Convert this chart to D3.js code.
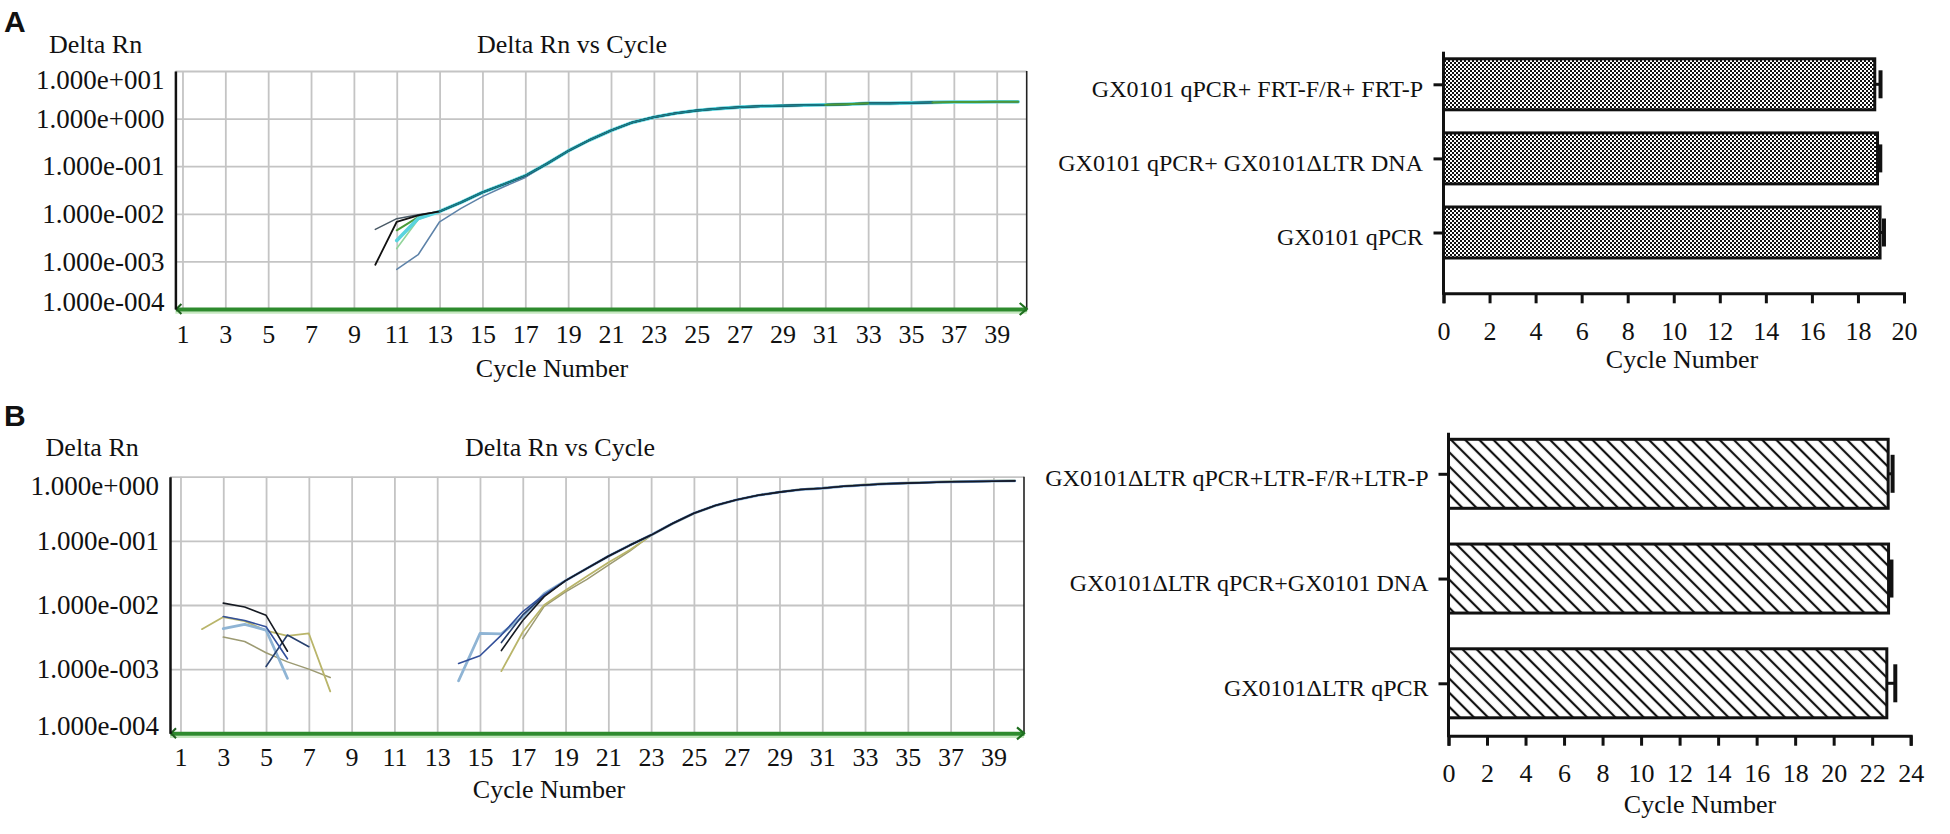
<!DOCTYPE html>
<html><head><meta charset="utf-8">
<script src="https://cdn.jsdelivr.net/npm/d3@7"></script>
<style>
body{margin:0;background:#fff;}
svg{display:block;font-family:"Liberation Serif","Times New Roman",serif;}
</style></head><body>
<svg id="c" width="1950" height="834"></svg>
<script>
// ---------------- DATA ----------------
const cycleTicks = [1,3,5,7,9,11,13,15,17,19,21,23,25,27,29,31,33,35,37,39];
const yTicksA = [10,1,0.1,0.01,0.001,0.0001];
const yTicksB = [1,0.1,0.01,0.001,0.0001];

// Panel A amplification curves: [cycle, Delta Rn]
const tailA = [[13,1.12e-2],[14,1.74e-2],[15,2.82e-2],[16,4.17e-2],[17,6.31e-2],[18,0.112],[19,0.209],[20,0.355],[21,0.562],[22,0.832],[23,1.07],[24,1.29],[25,1.48],[26,1.62],[27,1.74],[28,1.82],[29,1.86],[30,1.91],[31,1.95],[32,2.0],[33,2.09],[34,2.09],[35,2.14],[36,2.19],[37,2.24],[38,2.24],[39,2.26],[40,2.26]];
const aGreen = [[11,4.5e-3],[12,8.5e-3]];
const aLightGreen = [[11,1.86e-3],[12,7.6e-3]];
const aBlueGray = [[11,6.8e-4],[12,1.38e-3],[13,6.8e-3],[14,1.3e-2],[15,2.3e-2],[16,3.7e-2],[17,5.8e-2]];
const aCyan = [[11,2.75e-3],[12,8.0e-3]];
const aDark = [[10,4.7e-3],[11,7.9e-3],[12,9.5e-3]];
const aBlack = [[10,8.5e-4],[11,6.8e-3],[12,9.3e-3]];

// Panel B amplification curves
const tailB = [[19,0.024],[20,0.0372],[21,0.0575],[22,0.0851],[23,0.123],[24,0.186],[25,0.269],[26,0.355],[27,0.437],[28,0.513],[29,0.575],[30,0.631],[31,0.661],[32,0.708],[33,0.741],[34,0.776],[35,0.794],[36,0.813],[37,0.832],[38,0.841],[39,0.851],[40,0.861]];
const tailBOlive = [[23,0.121],[24,0.183],[25,0.265],[26,0.352],[27,0.437],[28,0.515],[29,0.58],[30,0.64],[31,0.67],[32,0.72],[33,0.76],[34,0.79],[35,0.81],[36,0.83],[37,0.85],[38,0.86],[39,0.87],[40,0.875]];
const bBlackEarly = [[3,1.07e-2],[4,9.3e-3],[5,6.9e-3],[6,1.9e-3]];
const bBlackRise = [[16,1.95e-3],[17,5.75e-3],[18,1.35e-2]];
const bNavyEarly = [[3,6.6e-3],[4,5.75e-3],[5,4.57e-3],[6,1.45e-3]];
const bNavyRise = [[14,1.23e-3],[15,1.62e-3],[16,3.4e-3],[17,7.9e-3],[18,1.45e-2]];
const bBlueEarly = [[5,1.1e-3],[6,3.4e-3],[7,2.24e-3]];
const bBlueRise = [[16,2.6e-3],[17,7.0e-3],[18,1.4e-2]];
const bLightEarly = [[3,4.27e-3],[4,5.0e-3],[5,4.07e-3],[6,7.2e-4]];
const bLightRise = [[14,6.6e-4],[15,3.6e-3],[16,3.55e-3],[17,6.6e-3],[18,1.5e-2]];
const bKhakiEarly = [[3,3.16e-3],[4,2.7e-3],[5,1.8e-3],[6,1.3e-3],[7,1.0e-3],[8,7.4e-4]];
const bKhakiRise = [[17,3.0e-3],[18,9.5e-3],[19,1.6e-2],[20,2.5e-2],[21,4.2e-2],[22,6.9e-2]];
const bOliveEarly = [[2,4.2e-3],[3,6.5e-3],[4,5.6e-3],[5,4.0e-3],[6,3.3e-3],[7,3.6e-3],[8,4.5e-4]];
const bOliveRise = [[16,9.3e-4],[17,3.8e-3],[18,1.0e-2],[19,1.7e-2],[20,2.8e-2],[21,4.6e-2],[22,7.2e-2]];

// Bar charts (Ct, cycle number)
const barCatsA = ["GX0101 qPCR+ FRT-F/R+ FRT-P","GX0101 qPCR+ GX0101\u0394LTR DNA","GX0101 qPCR"];
const barMeansA = [18.73, 18.85, 18.96];
const barErrA = [0.25, 0.12, 0.17];
const barTicksA = [0,2,4,6,8,10,12,14,16,18,20];

const barCatsB = ["GX0101\u0394LTR qPCR+LTR-F/R+LTR-P","GX0101\u0394LTR qPCR+GX0101 DNA","GX0101\u0394LTR qPCR"];
const barMeansB = [22.83, 22.85, 22.76];
const barErrB = [0.23, 0.15, 0.44];
const barTicksB = [0,2,4,6,8,10,12,14,16,18,20,22,24];

// ---------------- DRAWING ----------------
const svg = d3.select('#c');
svg.append('rect').attr('width',1950).attr('height',834).attr('fill','#fff');
const SERIF = '"Liberation Serif","Times New Roman",serif';

const defs = svg.append('defs');
const chk = defs.append('pattern').attr('id','chk').attr('width',4).attr('height',4).attr('patternUnits','userSpaceOnUse');
chk.append('rect').attr('width',4).attr('height',4).attr('fill','#fff');
chk.append('rect').attr('width',2).attr('height',2).attr('fill','#111');
chk.append('rect').attr('x',2).attr('y',2).attr('width',2).attr('height',2).attr('fill','#111');
const hat = defs.append('pattern').attr('id','hatch').attr('width',10).attr('height',10).attr('patternUnits','userSpaceOnUse').attr('patternTransform','rotate(-45)');
hat.append('rect').attr('width',10).attr('height',10).attr('fill','#fff');
hat.append('line').attr('x1',5).attr('y1',-1).attr('x2',5).attr('y2',11).attr('stroke','#111').attr('stroke-width',2.2);

function fmtExp(v){
  const e = Math.round(Math.log10(v));
  return '1.000e' + (e < 0 ? '-' : '+') + String(Math.abs(e)).padStart(3,'0');
}
function joinTail(early, tail){
  const last = early[early.length-1][0];
  return early.concat(tail.filter(p => p[0] > last));
}
function span(arr, a, b){ return arr.filter(p => p[0] >= a && p[0] <= b); }

function drawAmp(c){
  const g = svg.append('g');
  const x = d3.scaleLinear().domain(c.xDom).range([c.left, c.right]);
  const y = d3.scaleLog().domain(c.yDom).range([c.bottom, c.top]);
  // grid
  g.append('g').attr('transform',`translate(0,${c.bottom})`)
    .call(d3.axisBottom(x).tickValues(cycleTicks).tickSize(-(c.bottom-c.top)).tickFormat(''))
    .call(s=>s.select('.domain').remove())
    .selectAll('line').attr('stroke','#c4c4c4').attr('stroke-width',1.8);
  g.append('g').attr('transform',`translate(${c.left},0)`)
    .call(d3.axisLeft(y).tickValues(c.yTicks).tickSize(-(c.right-c.left)).tickFormat(''))
    .call(s=>s.select('.domain').remove())
    .selectAll('line').attr('stroke','#c4c4c4').attr('stroke-width',1.8);
  // curves
  const line = d3.line().x(d=>x(d[0])).y(d=>y(d[1]));
  c.series.forEach(s => s.segs.forEach(seg => {
    g.append('path').attr('d', line(seg)).attr('fill','none')
      .attr('stroke', s.color).attr('stroke-width', s.w || 1.5)
      .attr('stroke-linejoin','round').attr('stroke-linecap','round');
  }));
  // right border
  g.append('line').attr('x1',c.right).attr('x2',c.right).attr('y1',c.top).attr('y2',c.bottom)
    .attr('stroke','#222').attr('stroke-width',1.6);
  // pale shadow under green axis
  g.append('line').attr('x1',c.left).attr('x2',c.right).attr('y1',c.bottom+3.5).attr('y2',c.bottom+3.5)
    .attr('stroke','#c6e8c0').attr('stroke-width',2.5);
  // x axis (green)
  const xa = g.append('g').attr('transform',`translate(0,${c.bottom})`)
    .call(d3.axisBottom(x).tickValues(cycleTicks).tickSize(0).tickPadding(c.xPad));
  xa.attr('font-family', SERIF).attr('font-size', 26);
  xa.select('.domain').attr('stroke','#2e8b2e').attr('stroke-width',4);
  xa.selectAll('text').attr('fill','#111');
  // arrows
  g.append('path').attr('d',`M${c.left+6},${c.bottom-5}L${c.left+1},${c.bottom}L${c.left+6},${c.bottom+5}`)
    .attr('fill','none').attr('stroke','#1f5f1f').attr('stroke-width',2);
  g.append('path').attr('d',`M${c.right-7},${c.bottom-6}L${c.right},${c.bottom}L${c.right-7},${c.bottom+6}`)
    .attr('fill','none').attr('stroke','#1f6f1f').attr('stroke-width',2.2);
  // y axis
  const ya = g.append('g').attr('transform',`translate(${c.left},0)`)
    .call(d3.axisLeft(y).tickValues(c.yTicks).tickFormat(fmtExp).tickSize(0).tickPadding(11));
  ya.attr('font-family', SERIF).attr('font-size', 27);
  ya.select('.domain').attr('stroke','#111').attr('stroke-width',2.5);
  ya.selectAll('text').attr('fill','#111');
  const ytx = ya.selectAll('.tick text');
  ytx.filter((d,i)=>i===0).attr('transform','translate(0,9)');
  ytx.filter((d,i,n)=>i===n.length-1).attr('transform','translate(0,-7)');
  // labels
  g.append('text').attr('x',c.ylab[0]).attr('y',c.ylab[1]).attr('font-size',26).attr('fill','#111').text('Delta Rn');
  g.append('text').attr('x',c.title[0]).attr('y',c.title[1]).attr('font-size',26).attr('fill','#111')
    .attr('text-anchor','middle').text('Delta Rn vs Cycle');
  g.append('text').attr('x',c.xlab[0]).attr('y',c.xlab[1]).attr('font-size',26).attr('fill','#111')
    .attr('text-anchor','middle').text('Cycle Number');
}

function drawBars(c){
  const g = svg.append('g');
  const x = d3.scaleLinear().domain([0, c.xMax]).range([c.left, c.right]);
  const y = d3.scalePoint().domain(c.cats).range(c.catRange);
  c.cats.forEach((cat,i) => {
    g.append('rect').attr('x', x(0)).attr('y', y(cat)-c.barH/2)
      .attr('width', x(c.means[i]) - x(0)).attr('height', c.barH)
      .attr('fill', c.fill).attr('stroke','#111').attr('stroke-width',3);
    g.append('line').attr('x1', x(c.means[i])).attr('x2', x(c.means[i]+c.errs[i]))
      .attr('y1', y(cat)).attr('y2', y(cat)).attr('stroke','#111').attr('stroke-width',3);
    g.append('line').attr('x1', x(c.means[i]+c.errs[i])).attr('x2', x(c.means[i]+c.errs[i]))
      .attr('y1', y(cat)-c.capH/2).attr('y2', y(cat)+c.capH/2).attr('stroke','#111').attr('stroke-width',4);
  });
  // x axis
  const xa = g.append('g').attr('transform',`translate(0,${c.axisY})`)
    .call(d3.axisBottom(x).tickValues(c.ticks).tickSize(10).tickPadding(18));
  xa.attr('font-family', SERIF).attr('font-size', 26);
  xa.select('.domain').attr('stroke','#111').attr('stroke-width',3);
  xa.selectAll('line').attr('stroke','#111').attr('stroke-width',3);
  xa.selectAll('text').attr('fill','#111');
  // y axis
  g.append('line').attr('x1',c.left).attr('x2',c.left).attr('y1',c.axisTop).attr('y2',c.axisY+1.5)
    .attr('stroke','#111').attr('stroke-width',3);
  const ya = g.append('g').attr('transform',`translate(${c.left},0)`)
    .call(d3.axisLeft(y).tickSize(10).tickPadding(c.labPad));
  ya.attr('font-family', SERIF).attr('font-size', 24);
  ya.select('.domain').remove();
  ya.selectAll('line').attr('stroke','#111').attr('stroke-width',3);
  ya.selectAll('text').attr('fill','#111').attr('dy','0.5em');
  g.append('text').attr('x',c.xlab[0]).attr('y',c.xlab[1]).attr('font-size',26).attr('fill','#111')
    .attr('text-anchor','middle').text('Cycle Number');
}

// Panel labels
svg.append('text').attr('x',4).attr('y',32).attr('font-family','"Liberation Sans",Arial,sans-serif')
  .attr('font-weight','bold').attr('font-size',30).attr('fill','#111').text('A');
svg.append('text').attr('x',4).attr('y',426).attr('font-family','"Liberation Sans",Arial,sans-serif')
  .attr('font-weight','bold').attr('font-size',30).attr('fill','#111').text('B');

const greenA = joinTail(aGreen, tailA);
drawAmp({
  left:175.4, right:1026.7, top:71, bottom:309, xDom:[0.67,40.4], yDom:[1e-4,10], yTicks:yTicksA, xPad:16,
  title:[572,53], ylab:[49,53], xlab:[552,377],
  series:[
    {segs:[greenA], color:'#4a9a38', w:2},
    {segs:[joinTail(aLightGreen, tailA)], color:'#92d49a', w:1.6},
    {segs:[joinTail(aCyan, tailA)], color:'#5ad4de', w:3.6},
    {segs:[joinTail(aBlueGray, tailA)], color:'#5d82a8', w:1.5},
    {segs:[joinTail(aDark, tailA)], color:'#4a5a66', w:1.5},
    {segs:[joinTail(aBlack, span(tailA, 13, 36))], color:'#111', w:1.8},
    {segs:[span(tailA, 13, 36)], color:'#16808e', w:1.8},
    {segs:[span(greenA, 31, 33), span(greenA, 36, 40)], color:'#4a9a38', w:2}
  ]
});

drawAmp({
  left:170, right:1024, top:476.7, bottom:733.3, xDom:[0.51,40.43], yDom:[1e-4,1], yTicks:yTicksB, xPad:14,
  title:[560,456], ylab:[45.6,456], xlab:[549,798],
  series:[
    {segs:[bKhakiEarly, joinTail(bKhakiRise, tailB)], color:'#9c9a72', w:1.5},
    {segs:[bOliveEarly, joinTail(joinTail(bOliveRise, tailB).filter(p=>p[0]<23), tailBOlive)], color:'#b9b56a', w:1.8},
    {segs:[bLightEarly, joinTail(bLightRise, tailB)], color:'#8fb4d4', w:2.8},
    {segs:[bBlueEarly, joinTail(bBlueRise, tailB)], color:'#27406e', w:1.6},
    {segs:[bNavyEarly, joinTail(bNavyRise, tailB)], color:'#33509a', w:1.6},
    {segs:[bBlackEarly, joinTail(bBlackRise, tailB)], color:'#161a22', w:1.6}
  ]
});

drawBars({
  left:1443.5, right:1904, xMax:20, axisY:293.3, axisTop:51.7, catRange:[84.3,232.5], barH:51, capH:28,
  cats:barCatsA, means:barMeansA, errs:barErrA, ticks:barTicksA, fill:'url(#chk)', labPad:10.5, xlab:[1682,368]
});
drawBars({
  left:1448.5, right:1910.7, xMax:24, axisY:735.7, axisTop:432.7, catRange:[473.8,683.3], barH:69, capH:38,
  cats:barCatsB, means:barMeansB, errs:barErrB, ticks:barTicksB, fill:'url(#hatch)', labPad:10, xlab:[1700,813]
});
</script>
</body></html>
